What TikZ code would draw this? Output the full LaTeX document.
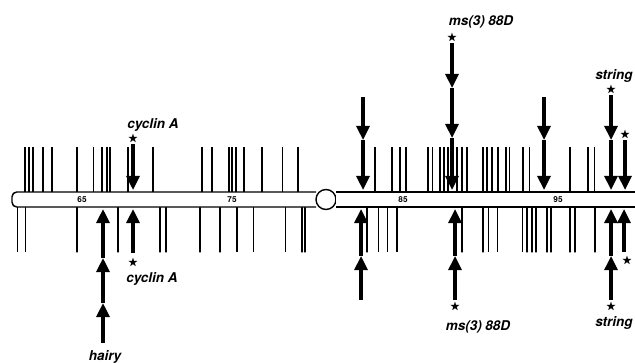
\documentclass[tikz,border=0pt]{standalone}
\usepackage{fontspec}
\setsansfont{TeX Gyre Heros}
\usepackage{amssymb}
\usetikzlibrary{arrows.meta}

\tikzset{
  tk/.style={line width=0.6pt},
  tkb/.style={line width=2.2pt},
  tkh/.style={line width=1.3pt,dash pattern=on 0.5pt off 0.3pt},
  bigarr/.style={line width=2.6pt,-{Triangle[width=11pt,length=12pt]}},
  gene/.style={font=\sffamily\bfseries\itshape\fontsize{11.5}{13}\selectfont,inner sep=0pt},
  num/.style={font=\sffamily\bfseries\fontsize{7}{8}\selectfont,inner sep=0pt},
  starlbl/.style={font=\small,inner sep=0.5pt},
  chrom/.style={line width=1.2pt}
}

\begin{document}
\begin{tikzpicture}[x=0.03cm,y=-0.03cm]
\useasboundingbox (0,0) rectangle (635,363);

\foreach \x in {93,282,432,509,529,594} \draw[tk] (\x,147) -- (\x,192);
\foreach \x in {25,29,33,102,202,262,392,448,457,506} \draw[tkb] (\x,147) -- (\x,192);
\foreach \x in {43,52,77,107,110,128,153,212,229,232,236,244,298,375,400,406,428,440,444,462,467,483,487,492,498,523,570,588}
  \draw[tkh] (\x,147) -- (\x,192);

\foreach \x in {17,25,253,285,378,387,488,497,522} \draw[tk] (\x,207) -- (\x,252);
\foreach \x in {237,397} \draw[tkb] (\x,207) -- (\x,252);
\foreach \x in {77,118,160,166,200,220,302,305,367,462,483,527,532,536,547,551,570,575,595}
  \draw[tkh] (\x,207) -- (\x,252);

\draw[chrom,fill=white,rounded corners=4pt] (316,192) -- (12,192) -- (12,207) -- (316,207);
\draw[chrom,fill=white] (326,199.5) circle[radius=0.3cm];
\draw[chrom,fill=white] (336,192) -- (645,192) -- (645,207) -- (336,207);
\node[num] (n65) at (82,200) {65};
\node[num] (n75) at (232,200) {75};
\node[num] (n85) at (403,200) {85};
\node[num] (n95) at (558,200) {95};

\node[gene] (cyc1) at (153,125) {cyclin A};
\node[starlbl] (s1) at (133,139) {$\bigstar$};
\draw[bigarr] (s1) -- (133,190);

\draw[bigarr] (363,97) -- (363,140);
\draw[bigarr] (363,140) -- (363,190);

\node[gene] (ms1) at (481,22) {ms(3) 88D};
\node[starlbl] (s2) at (452,38) {$\bigstar$};
\draw[bigarr] (s2) -- (452,88);
\draw[bigarr] (452,88) -- (452,138);
\draw[bigarr] (452,138) -- (452,190);

\draw[bigarr] (544,97) -- (544,140);
\draw[bigarr] (544,140) -- (544,190);

\node[gene] (str1) at (614,76) {string};
\node[starlbl] (s3) at (611,90) {$\bigstar$};
\draw[bigarr] (s3) -- (611,140);
\draw[bigarr] (611,140) -- (611,190);
\node[starlbl] (s4) at (625,135) {$\bigstar$};
\draw[bigarr] (s4) -- (625,190);

\node[gene] (hry) at (105,357) {hairy};
\draw[bigarr] (103,343) -- (103,303);
\draw[bigarr] (103,303) -- (103,258);
\draw[bigarr] (103,258) -- (103,209);

\node[gene] (cyc2) at (152,279) {cyclin A};
\node[starlbl] (s5) at (133,263) {$\bigstar$};
\draw[bigarr] (133,253) -- (133,209);

\draw[bigarr] (361,300) -- (361,256);
\draw[bigarr] (361,256) -- (361,209);

\node[gene] (ms2) at (478,327) {ms(3) 88D};
\node[starlbl] (s6) at (455,307) {$\bigstar$};
\draw[bigarr] (455,300) -- (455,256);
\draw[bigarr] (455,256) -- (455,209);

\node[gene] (str2) at (614,323) {string};
\node[starlbl] (s7) at (611,307) {$\bigstar$};
\draw[bigarr] (611,300) -- (611,256);
\draw[bigarr] (611,256) -- (611,209);
\node[starlbl] (s8) at (627,261) {$\bigstar$};
\draw[bigarr] (624,252) -- (624,209);
\end{tikzpicture}
\end{document}
